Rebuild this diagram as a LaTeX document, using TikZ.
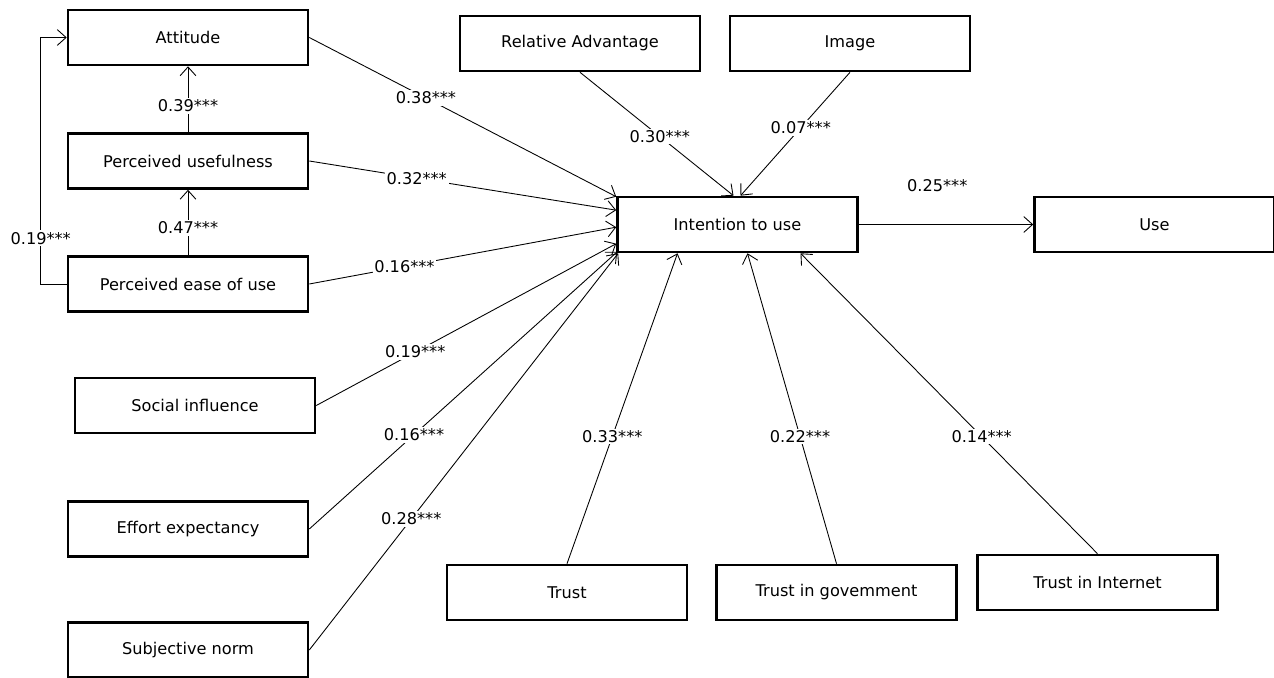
\documentclass[tikz,border=0pt]{standalone}
\usepackage{fontspec}
\setmainfont{DejaVu Sans}
\usetikzlibrary{arrows.meta}

\begin{document}
\begin{tikzpicture}[x=0.02cm,y=-0.02cm,
    construct/.style={draw,line width=1.5pt,minimum width=4.8cm,minimum height=1.1cm,font=\fontsize{9.2}{11}\selectfont},
    effect/.style={->,line width=0.5pt},
    coef/.style={fill=white,inner sep=1pt,font=\fontsize{9.2}{11}\selectfont},
    >={Straight Barb[length=5pt,width=9pt]}]
    \useasboundingbox (0,0) rectangle (1274,678);
    \node[construct] (att) at (188,37.5) {Attitude};
    \node[construct] (pu) at (188,161) {Perceived usefulness};
    \node[construct] (peou) at (188,284) {Perceived ease of use};
    \node[construct] (soc) at (195,405.5) {Social influence};
    \node[construct] (eff) at (188,529) {Effort expectancy};
    \node[construct] (subj) at (188,650) {Subjective norm};
    \node[construct] (ra) at (580,43.5) {Relative Advantage};
    \node[construct] (img) at (850,43.5) {Image};
    \node[construct] (itu) at (737.5,224.5) {Intention to use};
    \node[construct] (use) at (1154.5,224.5) {Use};
    \node[construct] (trust) at (567,592.5) {Trust};
    \node[construct] (gov) at (836.5,592.5) {Trust in govemment};
    \node[construct] (inet) at (1097.5,582.5) {Trust in Internet};
    \draw[effect] (pu.north) -- node[coef,pos=0.4] {0.39***} (att.south);
    \draw[effect] (peou.north) -- node[coef,pos=0.42] {0.47***} (pu.south);
    \draw[effect] (peou.west) -- ++(-26,0) |- node[coef,pos=0.093] {0.19***} (att.west);
    \draw[effect] (att.east) -- node[coef,pos=0.38] {0.38***} ([yshift=-0.02cm]itu.north west);
    \draw[effect] (pu.east) -- node[coef,pos=0.35] {0.32***} ([yshift=-0.29cm]itu.north west);
    \draw[effect] (peou.east) -- node[coef,pos=0.31] {0.16***} ([yshift=-0.63cm]itu.north west);
    \draw[effect] (soc.east) -- node[coef,pos=0.33] {0.19***} ([yshift=-0.96cm]itu.north west);
    \draw[effect] (eff.east) -- node[coef,pos=0.34] {0.16***} ([xshift=0.02cm,yshift=0.03cm]itu.south west);
    \draw[effect] (subj.east) -- node[coef,pos=0.33] {0.28***} ([xshift=0.04cm]itu.south west);
    \draw[effect] (ra.south) -- node[coef,pos=0.52] {0.30***} ([xshift=-0.08cm]itu.north);
    \draw[effect] (img.south) -- node[coef,pos=0.45] {0.07***} ([xshift=0.06cm]itu.north);
    \draw[effect] (trust.north) -- node[coef,pos=0.41] {0.33***} ([xshift=-1.2cm]itu.south);
    \draw[effect] (gov.north) -- node[coef,pos=0.41] {0.22***} ([xshift=0.2cm]itu.south);
    \draw[effect] (inet.north) -- node[coef,pos=0.39] {0.14***} ([xshift=1.26cm]itu.south);
    \draw[effect] (itu.east) -- node[coef,pos=0.45,above=0.62cm] {0.25***} (use.west);
\end{tikzpicture}
\end{document}
